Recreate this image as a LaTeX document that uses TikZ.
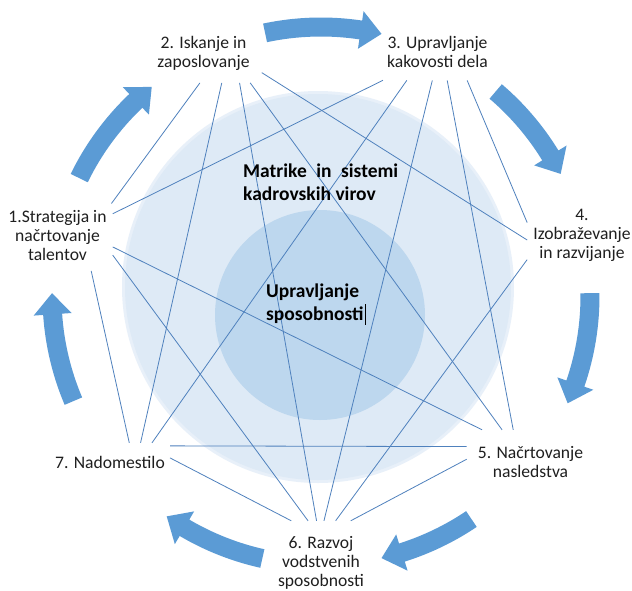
\documentclass[tikz,border=0pt]{standalone}
\usepackage{fontspec}
\setmainfont{Carlito}
\usetikzlibrary{calc}
\definecolor{ringout}{HTML}{DEEAF6}
\definecolor{ringin}{HTML}{BDD7EE}
\definecolor{flowblue}{HTML}{5B9BD5}
\definecolor{linkblue}{HTML}{4F81BD}
\definecolor{ink}{HTML}{1F1F1F}
% centred / left-aligned stacks whose baseline is the first line
\newcommand\stackc[1]{\begin{tabular}[t]{@{}c@{}}#1\end{tabular}}
\newcommand\stackl[1]{\begin{tabular}[t]{@{}l@{}}#1\end{tabular}}

\begin{document}
\begin{tikzpicture}[x=1pt,y=1pt,
  stage/.style={anchor=base, inner sep=0pt, text=ink,
    font=\fontsize{17.6}{19}\selectfont},
  core/.style={anchor=base west, inner sep=0pt, text=black,
    font=\bfseries\fontsize{19.5}{23}\selectfont},
  link/.style={draw=linkblue, line width=0.8pt},
  flow/.style={fill=flowblue}]
\useasboundingbox (0,0) rectangle (632,-590);
\fill[white] (0,0) rectangle (632,-590);

% nested circles
\fill[ringout!70!white] (318,-287) circle[radius=196pt];
\fill[ringout] (318,-287) circle[radius=193pt];
\fill[ringin] (320,-315) circle[radius=105pt];

% the seven stages
\node[stage, inner xsep=6pt, inner ysep=5pt] (n1) at (57.5,-222)
  {\stackc{1.Strategija in\\načrtovanje\\talentov}};
\node[stage, inner xsep=12pt, inner ysep=10pt] (n2) at (203.5,-48)
  {\stackc{2. Iskanje in\\zaposlovanje}};
\node[stage, inner xsep=4pt, inner ysep=7.5pt] (n3) at (437.5,-48)
  {\stackc{3. Upravljanje\\kakovosti dela}};
\node[stage, inner xsep=6pt, inner ysep=0pt] (n4) at (582,-220)
  {\stackc{4.\\Izobraževanje\\in razvijanje}};
\node[stage, inner xsep=11pt, inner ysep=14.7pt] (n5) at (530.5,-458)
  {\stackc{5. Načrtovanje\\nasledstva}};
\node[stage, inner xsep=0pt, inner ysep=13.7pt] (n6) at (321,-548)
  {\stackc{6. Razvoj\\vodstvenih\\sposobnosti}};
\node[stage, inner xsep=5pt, inner ysep=11.7pt] (n7) at (110,-468)
  {\stackc{7. Nadomestilo}};

% links between stages
\foreach \p/\q in {n1.32/n2.-97, n1.23/n3.-154, n1.-10/n5.145, n1.-18/n6.107,
    n1.-45/n7.48, n2.-18/n4.-175, n2.-32/n5.130, n2.-39/n6.96, n2.-58/n7.35,
    n3.-42/n4.167, n3.-70/n5.117, n3.-101/n6.86, n3.-139/n7.27,
    n4.-156/n6.71, n5.176/n6.55, n5.165/n7.17, n6.125/n7.6}
  \draw[link] (\p) -- (\q);

% curved block arrows of the cycle (tail angle / tip angle)
\coordinate (C) at (321,-296);
\foreach \a/\b in {154/129, 102/77, 49.5/27, 0.6/-23.5, -56/-77,
    -102.6/-125, 203/179.4} {
  \pgfmathsetmacro\c{\b+4.5}
  \fill[flow] ($(C)+(\a:278.5pt)$)
    arc[start angle=\a, end angle=\c, radius=278.5pt]
    -- ($(C)+(\c:288pt)$) -- ($(C)+(\b:269pt)$) -- ($(C)+(\c:250pt)$)
    -- ($(C)+(\c:259.5pt)$)
    arc[start angle=\c, end angle=\a, radius=259.5pt] -- cycle;
}

% central captions
\node[core] (mat) at (243,-177)
  {\stackl{\makebox[155pt][s]{Matrike in sistemi}\\kadrovskih virov}};
\node[core] (cap) at (266,-297)
  {\stackl{Upravljanje\\sposobnosti\kern1.5pt\rule[-4pt]{0.7pt}{21pt}}};
\end{tikzpicture}
\end{document}
